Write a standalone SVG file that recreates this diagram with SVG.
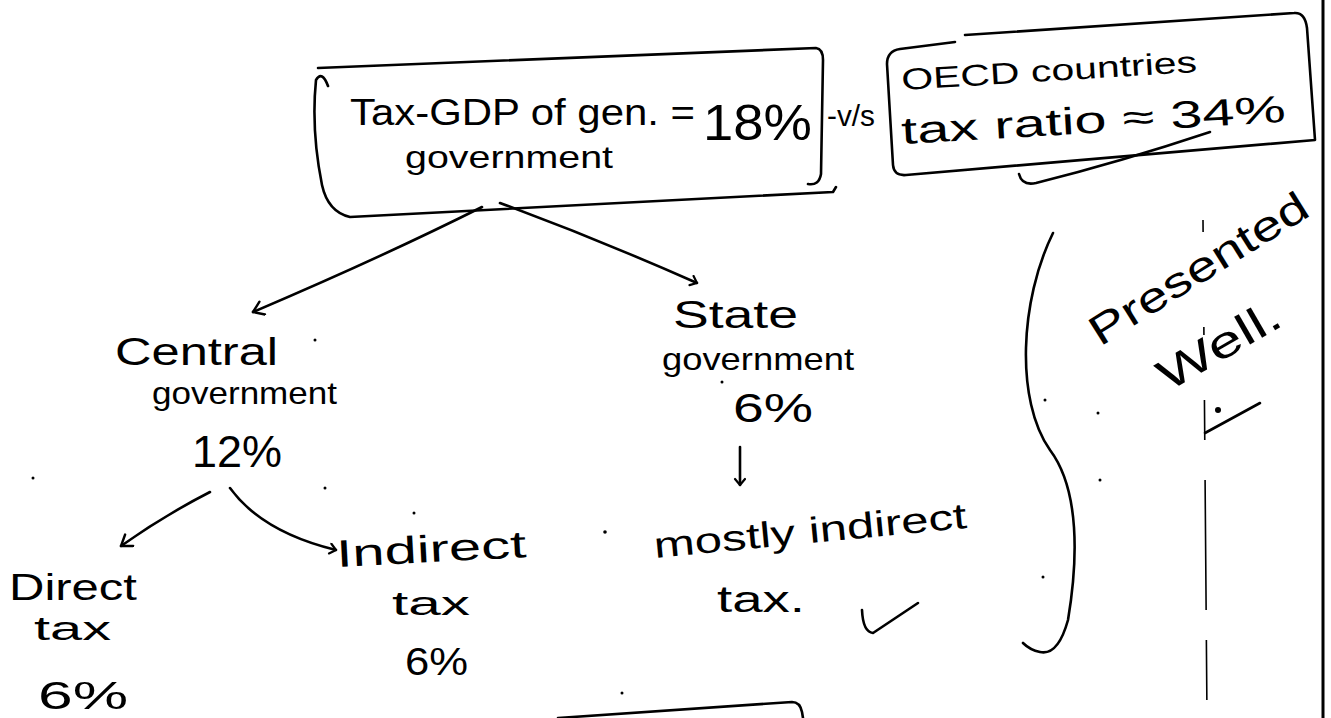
<svg xmlns="http://www.w3.org/2000/svg" width="1331" height="718" viewBox="0 0 1331 718">
<style>
.t{font-family:"Liberation Sans",Arial,sans-serif;fill:#000;}
.s{fill:none;stroke:#000;stroke-width:2.6;stroke-linecap:round;stroke-linejoin:round;}
.d{fill:#000;}
</style>
<defs>
<marker id="ah" markerUnits="userSpaceOnUse" markerWidth="20" markerHeight="20" refX="13" refY="8" orient="auto">
<path d="M3,1 L13,8 L3,15" fill="none" stroke="#000" stroke-width="2.4" stroke-linecap="round" stroke-linejoin="round"/>
</marker>
<marker id="ahs" markerUnits="userSpaceOnUse" markerWidth="14" markerHeight="14" refX="9" refY="6" orient="auto">
<path d="M3,1 L9,6 L3,11" fill="none" stroke="#000" stroke-width="2.2" stroke-linecap="round" stroke-linejoin="round"/>
</marker>
</defs>
<rect width="1331" height="718" fill="#fff"/>

<g id="tax-gdp">
<path class="s" d="M328,86 Q322,70 316,80 Q311,130 322,185 Q328,212 350,217 L833,192 L836,187"/>
<path class="s" d="M318,68 L816,48 Q823,49 823,60 L821,174 Q819,186 808,184"/>
<text class="t" x="350" y="125" font-size="36" textLength="345" lengthAdjust="spacingAndGlyphs">Tax-GDP of gen. =</text>
<text class="t" x="703" y="140" font-size="50" textLength="109" lengthAdjust="spacingAndGlyphs">18%</text>
<text class="t" x="405" y="168" font-size="32" textLength="208" lengthAdjust="spacingAndGlyphs">government</text>
</g>

<g id="vs">
<text class="t" x="827" y="126" font-size="30" textLength="48" lengthAdjust="spacingAndGlyphs">-v/s</text>
</g>

<g id="oecd">
<path class="s" d="M955,42 L900,49 Q887,51 887,64 L893,165 Q894,176 906,175 L1315,140 L1307,28 Q1305,12 1294,13 L965,35"/>
<text class="t" x="902" y="90" font-size="30" textLength="296" lengthAdjust="spacingAndGlyphs" transform="rotate(-3.5 902 90)">OECD countries</text>
<text class="t" x="902" y="144" font-size="38" textLength="385" lengthAdjust="spacingAndGlyphs" transform="rotate(-3.3 902 144)">tax ratio ≈ 34%</text>
<path class="s" d="M1019,174 Q1022,186 1036,183 Q1120,162 1210,132"/>
</g>

<g id="central">
<text class="t" x="115" y="365" font-size="38" textLength="163" lengthAdjust="spacingAndGlyphs">Central</text>
<text class="t" x="152" y="404" font-size="32" textLength="185" lengthAdjust="spacingAndGlyphs">government</text>
<text class="t" x="192" y="467" font-size="44" textLength="90" lengthAdjust="spacingAndGlyphs">12%</text>
</g>

<g id="state">
<text class="t" x="673" y="328" font-size="38" textLength="125" lengthAdjust="spacingAndGlyphs">State</text>
<text class="t" x="662" y="370" font-size="32" textLength="192" lengthAdjust="spacingAndGlyphs">government</text>
<text class="t" x="733" y="422" font-size="40" textLength="80" lengthAdjust="spacingAndGlyphs">6%</text>
</g>

<g id="direct">
<text class="t" x="9" y="600" font-size="36" textLength="128" lengthAdjust="spacingAndGlyphs">Direct</text>
<text class="t" x="34" y="640" font-size="34" textLength="77" lengthAdjust="spacingAndGlyphs">tax</text>
<text class="t" x="38" y="709" font-size="38" textLength="90" lengthAdjust="spacingAndGlyphs">6%</text>
</g>

<g id="indirect">
<text class="t" x="337" y="567" font-size="38" textLength="190" lengthAdjust="spacingAndGlyphs" transform="rotate(-3 337 567)">Indirect</text>
<text class="t" x="392" y="615" font-size="34" textLength="78" lengthAdjust="spacingAndGlyphs">tax</text>
<text class="t" x="405" y="675" font-size="38" textLength="63" lengthAdjust="spacingAndGlyphs">6%</text>
</g>

<g id="mostly">
<text class="t" x="655" y="558" font-size="36" textLength="314" lengthAdjust="spacingAndGlyphs" transform="rotate(-5.5 655 558)">mostly indirect</text>
<text class="t" x="717" y="612" font-size="36" textLength="88" lengthAdjust="spacingAndGlyphs">tax.</text>
<path class="s" d="M862,610 Q863,632 873,633 L918,603"/>
</g>

<g id="presented">
<text class="t" x="1100" y="347" font-size="42" textLength="250" lengthAdjust="spacingAndGlyphs" transform="rotate(-32 1100 347)">Presented</text>
<text class="t" x="1168" y="392" font-size="44" textLength="135" lengthAdjust="spacingAndGlyphs" transform="rotate(-30 1168 392)">Well.</text>
<path class="s" d="M1205,433 L1260,403"/>
<circle class="d" cx="1218" cy="410" r="3"/>
</g>

<g id="connectors">
<path class="s" d="M482,207 Q380,258 253,312" marker-end="url(#ah)"/>
<path class="s" d="M500,203 Q600,240 697,283" marker-end="url(#ahs)"/>
<path class="s" d="M210,492 Q165,515 121,546" marker-end="url(#ah)"/>
<path class="s" d="M230,488 Q262,532 336,550" marker-end="url(#ahs)"/>
<path class="s" d="M740,447 L740,485" marker-end="url(#ahs)"/>
</g>

<g id="marks">
<path class="s" d="M1053,233 C1020,300 1015,400 1050,450 C1080,490 1078,560 1068,620 Q1058,656 1040,652 Q1030,650 1023,643"/>
<path class="s" d="M558,718 L792,702 Q800,702 802,712 L803,718"/>
<line x1="1323" y1="0" x2="1323" y2="718" stroke="#000" stroke-width="3"/>
<line x1="1203" y1="220" x2="1207" y2="718" stroke="#000" stroke-width="1.6" stroke-dasharray="12 95 8 65 40 40 130 30 60 20 90"/>
<circle class="d" cx="33" cy="478" r="1.5"/>
<circle class="d" cx="325" cy="488" r="1.5"/>
<circle class="d" cx="315" cy="340" r="1.5"/>
<circle class="d" cx="414" cy="513" r="1.5"/>
<circle class="d" cx="605" cy="532" r="1.8"/>
<circle class="d" cx="622" cy="693" r="1.5"/>
<circle class="d" cx="722" cy="382" r="1.5"/>
<circle class="d" cx="1043" cy="577" r="1.5"/>
<circle class="d" cx="1045" cy="400" r="1.5"/>
<circle class="d" cx="1098" cy="413" r="1.5"/>
<circle class="d" cx="1100" cy="480" r="1.5"/>
</g>
</svg>
